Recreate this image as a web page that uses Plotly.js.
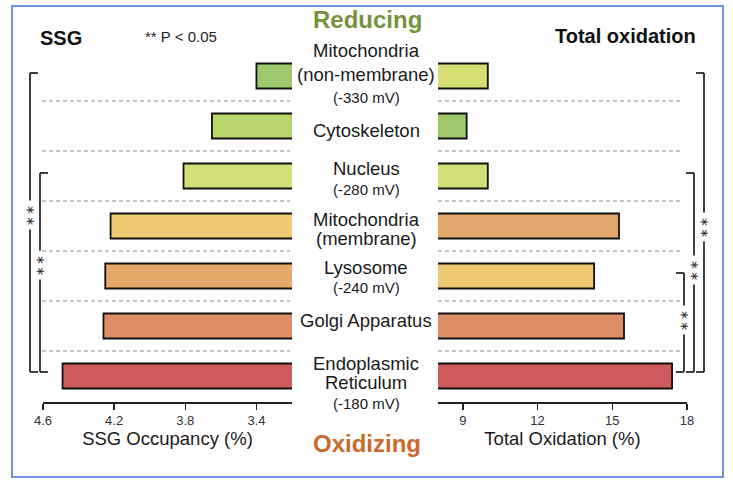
<!DOCTYPE html>
<html>
<head>
<meta charset="utf-8">
<script src="https://cdn.plot.ly/plotly-3.0.1.min.js"></script>
<style>html,body{margin:0;padding:0;background:#fff;}#chart{width:733px;height:501px;}</style>
</head>
<body>
<div id="chart"></div>
<script>
// ---------- data ----------
const organelles = ['Mitochondria (non-membrane)', 'Cytoskeleton', 'Nucleus', 'Mitochondria (membrane)', 'Lysosome', 'Golgi Apparatus', 'Endoplasmic Reticulum'];
const labelLines = [['Mitochondria', '(non-membrane)'], ['Cytoskeleton'], ['Nucleus'], ['Mitochondria', '(membrane)'], ['Lysosome'], ['Golgi Apparatus'], ['Endoplasmic', 'Reticulum']];
const potentials = ['(-330 mV)', '', '(-280 mV)', '', '(-240 mV)', '', '(-180 mV)'];
const ssgOccupancy = [3.40, 3.65, 3.81, 4.22, 4.25, 4.26, 4.49];
const totalOxidation = [10.0, 9.15, 10.0, 15.27, 14.27, 15.47, 17.4];
const ssgTicks = [4.6, 4.2, 3.8, 3.4];
const oxTicks = [9, 12, 15, 18];
// significance brackets: category index range
const leftBrackets = [{from: 0, to: 6}, {from: 2, to: 6}];
const rightBrackets = [{from: 0, to: 6}, {from: 2, to: 6}, {from: 4, to: 6}];

// ---------- styles / layout ----------
const W = 733, H = 501;
const px = v => v / W;
const ssgColors = ['#9dc96b', '#b9d66c', '#d3df74', '#efcb73', '#e5a86b', '#de8e67', '#cd5a5c'];
const oxColors = ['#d5df74', '#9dc96b', '#d3df74', '#e3a66b', '#eecb70', '#de8e67', '#cd5a5c'];
const FONT = 'Liberation Sans, Arial, sans-serif';
const TXT = '#1a1a1a';

const traces = [
  {type: 'bar', orientation: 'h', y: organelles, x: ssgOccupancy, xaxis: 'x', yaxis: 'y', width: 0.5,
   marker: {color: ssgColors, line: {color: '#111', width: 1.8}}, hoverinfo: 'x+y', showlegend: false},
  {type: 'bar', orientation: 'h', y: organelles, x: totalOxidation, xaxis: 'x2', yaxis: 'y', width: 0.5,
   marker: {color: oxColors, line: {color: '#111', width: 1.8}}, hoverinfo: 'x+y', showlegend: false}
];

const axisCommon = {
  ticks: 'outside', ticklen: 6, tickwidth: 1.5, tickcolor: '#222',
  showline: true, linecolor: '#222', linewidth: 1.5,
  showgrid: false, zeroline: false, fixedrange: true,
  tickfont: {family: FONT, size: 13, color: '#333'},
  anchor: 'y'
};

const shapes = [];
const annotations = [];

// frame
shapes.push({type: 'rect', xref: 'paper', yref: 'paper', x0: px(12), x1: px(723), y0: (H - 477) / H, y1: (H - 6) / H,
  line: {color: '#7192e2', width: 2}, fillcolor: 'rgba(0,0,0,0)'});

// dashed separators
for (let i = 0; i < organelles.length - 1; i++) {
  [[42, 290], [438, 683]].forEach(([a, b]) => {
    shapes.push({type: 'line', xref: 'paper', yref: 'y', x0: px(a), x1: px(b), y0: i + 0.5, y1: i + 0.5,
      line: {color: '#b4b4b4', width: 1.4, dash: '4px,3px'}});
  });
}

// center labels (pixel offsets of each line from the category centre)
const lineOffsets = [[-26, -2, 21], [3], [-9, 12], [-8, 11], [-10, 10], [-7], [-14, 5, 26]];
organelles.forEach((o, i) => {
  const lines = labelLines[i].slice();
  if (potentials[i]) lines.push(potentials[i]);
  lines.forEach((t, k) => {
    const isPot = potentials[i] && k === lines.length - 1;
    annotations.push({xref: 'paper', yref: 'y', x: px(366), y: i, yshift: -lineOffsets[i][k] - 1,
      text: t, showarrow: false, xanchor: 'center', yanchor: 'middle',
      font: {family: FONT, size: isPot ? 15 : 18.5, color: TXT}});
  });
});

// brackets
function bracket(xLine, dir, tick, from, to, starPx) {
  const col = '#2a2a2a', w = 1.8;
  const yTop = from - 0.06, yBot = to - 0.08;
  const star = (starPx - 76) / 50;
  const gap = 0.29;
  shapes.push({type: 'line', xref: 'paper', yref: 'y', x0: px(xLine), x1: px(xLine), y0: yTop, y1: star - gap, line: {color: col, width: w}});
  shapes.push({type: 'line', xref: 'paper', yref: 'y', x0: px(xLine), x1: px(xLine), y0: star + gap, y1: yBot, line: {color: col, width: w}});
  shapes.push({type: 'line', xref: 'paper', yref: 'y', x0: px(xLine), x1: px(xLine + dir * tick), y0: yTop, y1: yTop, line: {color: col, width: w}});
  shapes.push({type: 'line', xref: 'paper', yref: 'y', x0: px(xLine), x1: px(xLine + dir * tick), y0: yBot, y1: yBot, line: {color: col, width: w}});
  annotations.push({xref: 'paper', yref: 'y', x: px(xLine), y: star, xshift: -2, yshift: 0, text: '*\u2009*', textangle: 90, showarrow: false,
    xanchor: 'center', yanchor: 'middle', font: {family: 'DejaVu Sans, sans-serif', size: 16, color: '#222'}});
}
const leftX = [30, 40], leftStar = [215, 265];
leftBrackets.forEach((b, i) => bracket(leftX[i], 1, 8, b.from, b.to, leftStar[i]));
const rightX = [704, 694, 684], rightStar = [227, 270, 320];
rightBrackets.forEach((b, i) => bracket(rightX[i], -1, 8, b.from, b.to, rightStar[i]));

// titles and headers
const paperY = p => (H - p) / H;
annotations.push({xref: 'paper', yref: 'paper', x: px(367), y: paperY(20), text: '<b>Reducing</b>', showarrow: false,
  xanchor: 'center', yanchor: 'middle', font: {family: FONT, size: 24, color: '#76923c'}});
annotations.push({xref: 'paper', yref: 'paper', x: px(367), y: paperY(443), text: '<b>Oxidizing</b>', showarrow: false,
  xanchor: 'center', yanchor: 'middle', font: {family: FONT, size: 24, color: '#c9692c'}});
annotations.push({xref: 'paper', yref: 'paper', x: px(38), y: paperY(38), text: '<b>SSG</b>', showarrow: false,
  xanchor: 'left', yanchor: 'middle', font: {family: FONT, size: 20, color: '#111'}});
annotations.push({xref: 'paper', yref: 'paper', x: px(143), y: paperY(37), text: '** P < 0.05', showarrow: false,
  xanchor: 'left', yanchor: 'middle', font: {family: FONT, size: 15, color: '#222'}});
annotations.push({xref: 'paper', yref: 'paper', x: px(698), y: paperY(36), text: '<b>Total oxidation</b>', showarrow: false,
  xanchor: 'right', yanchor: 'middle', font: {family: FONT, size: 20, color: '#111'}});

const layout = {
  width: W, height: H,
  margin: {l: 0, r: 0, t: 0, b: 0},
  paper_bgcolor: '#fff', plot_bgcolor: 'rgba(0,0,0,0)',
  font: {family: FONT, color: TXT},
  showlegend: false,
  bargap: 0.5,
  xaxis: Object.assign({}, axisCommon, {
    domain: [px(43), px(292)], range: [4.6, 3.2], tickvals: ssgTicks, ticktext: ssgTicks.map(v => v.toFixed(1)),
    title: {text: 'SSG Occupancy (%)', font: {family: FONT, size: 18.5, color: TXT}, standoff: 2}
  }),
  xaxis2: Object.assign({}, axisCommon, {
    domain: [px(438), px(687)], range: [8, 18], tickvals: oxTicks,
    title: {text: 'Total Oxidation (%)', font: {family: FONT, size: 18.5, color: TXT}, standoff: 2}
  }),
  yaxis: {
    type: 'category', categoryorder: 'array', categoryarray: organelles,
    domain: [(H - 402) / H, (H - 50) / H], range: [6.52, -0.52], autorange: false,
    showticklabels: false, showgrid: false, zeroline: false, showline: false, ticks: '', fixedrange: true,
    anchor: 'x'
  },
  shapes: shapes,
  annotations: annotations
};

Plotly.newPlot('chart', traces, layout, {displayModeBar: false, staticPlot: true});
</script>
</body>
</html>
